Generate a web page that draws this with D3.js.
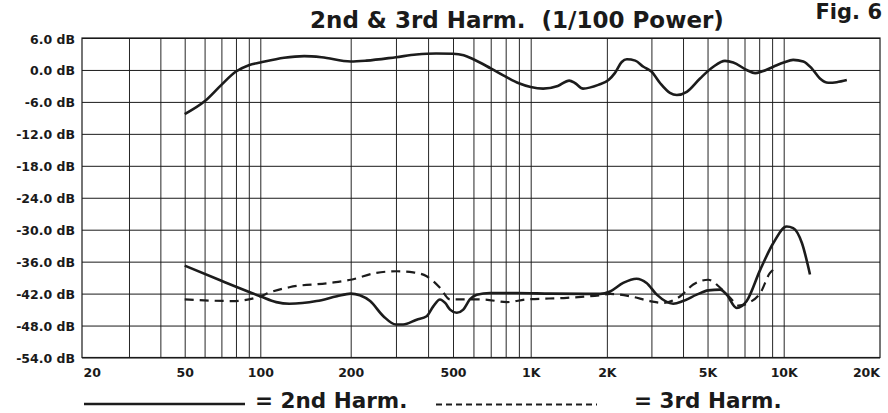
<!DOCTYPE html>
<html>
<head>
<meta charset="utf-8">
<script src="https://cdn.jsdelivr.net/npm/d3@7"></script>
<style>
  body { margin: 0; background: #fff; }
  text { font-family: "DejaVu Sans", sans-serif; font-weight: bold; fill: #1a1a1a; }
</style>
</head>
<body>
<div class="canvas"></div>
<script>
// data (Hz / dB)
const responseFreq = [50,60,70,80,90,100,120,140,160,200,230,300,360,430,500,550,600,700,800,900,1000,1120,1280,1420,1500,1610,1850,2030,2150,2290,2400,2590,2790,3000,3250,3550,3780,4140,4670,5270,5860,6320,7140,7710,8190,9100,10000,10900,11950,12900,13900,15000,16200,17750];
const responseDb = [-8.3,-5.9,-2.8,-0.3,0.9,1.4,2.3,2.6,2.4,1.6,1.75,2.4,2.9,3.1,3.05,2.75,2.0,0.3,-1.25,-2.5,-3.2,-3.5,-3.0,-2.0,-2.5,-3.5,-2.8,-1.9,-0.6,1.5,2.0,1.75,0.6,-0.3,-2.5,-4.3,-4.7,-4.1,-1.6,0.6,1.7,1.4,0,-0.6,-0.3,0.6,1.4,1.9,1.6,0.3,-1.6,-2.4,-2.3,-1.9];

const h2Freq = [50,70,100,113,125,154,180,200,217,238,268,300,320,361,395,419,445,466,487,517,548,581,618,695,883,1190,1880,2060,2320,2620,2870,3150,3660,4000,4530,5030,5610,5950,6520,7140,8080,9100,10270,10900,11800,12700];
const h2Db = [-36.75,-39.6,-42.5,-43.6,-43.9,-43.4,-42.5,-42,-42.3,-43.4,-46.25,-47.8,-47.8,-46.9,-46.25,-44.4,-43.1,-43.75,-45,-45.6,-45,-43.1,-42.2,-41.9,-41.9,-42,-42.06,-41.6,-40,-39.2,-40,-42.2,-43.9,-43.4,-42.2,-41.4,-41.25,-42.2,-44.7,-43.4,-37.5,-32.5,-29.4,-29.7,-32.5,-38.4];

const h3Freq = [50,78,100,108,125,170,200,252,302,350,395,445,487,548,655,807,964,1390,1880,2060,2470,2960,3340,3900,4390,5030,5610,6230,6610,7360,8080,8830,9380];
const h3Db = [-43.1,-43.4,-42.5,-41.75,-40.8,-40,-39.4,-38.1,-37.8,-38,-38.75,-40.9,-43.1,-43.1,-43.1,-43.6,-43.1,-42.8,-42.3,-42.06,-42.5,-43.4,-43.75,-42.5,-40.3,-39.4,-40.9,-43.1,-44.25,-43.6,-41.9,-38.1,-37.2];

const yTicks = [6,0,-6,-12,-18,-24,-30,-36,-42,-48,-54];
const xLabels = [20,50,100,200,500,1000,2000,5000,10000,20000];
const xLabelText = ['20','50','100','200','500','1K','2K','5K','10K','20K'];
const xGrid = [30,40,50,60,70,80,90,100,200,300,400,500,600,700,800,900,1000,2000,3000,4000,5000,6000,7000,8000,9000,10000];

const dims = {width: 888, height: 413};
const plot = {left: 82, right: 880, top: 38, bottom: 357.5};

const svg = d3.select('.canvas')
  .append('svg')
  .attr('width', dims.width)
  .attr('height', dims.height);

// the printed axis is not a clean log scale, so pin it at the gridlines
const x = d3.scaleLog()
  .domain([19.5, 50, 100, 200, 500, 1000, 10000, 24000])
  .range([82, 184.7, 260.3, 350.7, 453, 530.7, 783.7, 880]);

const y = d3.scaleLinear()
  .domain([-54, 6])
  .range([plot.bottom, plot.top]);

// vertical grid
const xGridAxis = d3.axisBottom(x)
  .tickValues(xGrid)
  .tickSize(-(plot.bottom - plot.top))
  .tickFormat('');
svg.append('g')
  .attr('transform', `translate(0,${plot.bottom})`)
  .call(xGridAxis)
  .call(g => g.select('.domain').remove())
  .call(g => g.selectAll('line').attr('stroke', '#262626').attr('stroke-width', 1));

// horizontal grid + y labels
const yAxis = d3.axisLeft(y)
  .tickValues(yTicks)
  .tickSize(-(plot.right - plot.left))
  .tickPadding(7)
  .tickFormat(d => d.toFixed(1) + ' dB');
svg.append('g')
  .attr('transform', `translate(${plot.left},0)`)
  .call(yAxis)
  .call(g => g.select('.domain').remove())
  .call(g => g.selectAll('line').attr('stroke', '#1a1a1a').attr('stroke-width', 1))
  .call(g => g.selectAll('text')
    .attr('font-family', 'DejaVu Sans')
    .attr('font-weight', 'bold')
    .attr('font-size', 12.5)
    .attr('fill', '#1a1a1a')
    .attr('dy', '0.4em'));

// frame
svg.append('rect')
  .attr('x', plot.left)
  .attr('y', plot.top)
  .attr('width', plot.right - plot.left)
  .attr('height', plot.bottom - plot.top)
  .attr('fill', 'none')
  .attr('stroke', '#1a1a1a')
  .attr('stroke-width', 1.2);

// x labels
const xAxis = d3.axisBottom(x)
  .tickValues(xLabels)
  .tickSize(0)
  .tickPadding(11)
  .tickFormat((d, i) => xLabelText[i]);
svg.append('g')
  .attr('transform', `translate(0,${plot.bottom})`)
  .call(xAxis)
  .call(g => g.select('.domain').remove())
  .call(g => g.selectAll('text')
    .attr('font-family', 'DejaVu Sans')
    .attr('font-weight', 'bold')
    .attr('font-size', 12.5)
    .attr('fill', '#1a1a1a')
    .attr('dx', (d, i) => i === 0 ? 7 : (i === xLabels.length - 1 ? 6 : 0)));

// curves
const line = d3.line()
  .x(d => x(d[0]))
  .y(d => y(d[1]))
  .curve(d3.curveMonotoneX);

const series = [
  {f: responseFreq, v: responseDb, dash: null},
  {f: h2Freq, v: h2Db, dash: null},
  {f: h3Freq, v: h3Db, dash: '9,6'}
];

svg.append('g').selectAll('path')
  .data(series)
  .enter()
  .append('path')
  .attr('d', s => line(s.f.map((f, i) => [f, s.v[i]])))
  .attr('fill', 'none')
  .attr('stroke', '#1c1c1c')
  .attr('stroke-width', s => s.dash ? 2.2 : 2.6)
  .attr('stroke-dasharray', s => s.dash)
  .attr('stroke-linejoin', 'round');

// title
svg.append('text')
  .attr('x', 310)
  .attr('y', 28)
  .attr('font-size', 23)
  .style('white-space', 'pre')
  .text('2nd & 3rd Harm.  (1/100 Power)');

svg.append('text')
  .attr('x', 882)
  .attr('y', 19)
  .attr('text-anchor', 'end')
  .attr('font-size', 21)
  .text('Fig. 6');

// legend
const legendGroup = svg.append('g');
legendGroup.append('line')
  .attr('x1', 84).attr('x2', 245)
  .attr('y1', 404).attr('y2', 404)
  .attr('stroke', '#1c1c1c')
  .attr('stroke-width', 2.6);
legendGroup.append('text')
  .attr('x', 255).attr('y', 408)
  .attr('font-size', 21.5)
  .text('= 2nd Harm.');
legendGroup.append('line')
  .attr('x1', 436).attr('x2', 597)
  .attr('y1', 404.5).attr('y2', 404.5)
  .attr('stroke', '#1c1c1c')
  .attr('stroke-width', 2.2)
  .attr('stroke-dasharray', '6,4');
legendGroup.append('text')
  .attr('x', 634).attr('y', 408)
  .attr('font-size', 21.5)
  .text('= 3rd Harm.');
</script>
</body>
</html>
